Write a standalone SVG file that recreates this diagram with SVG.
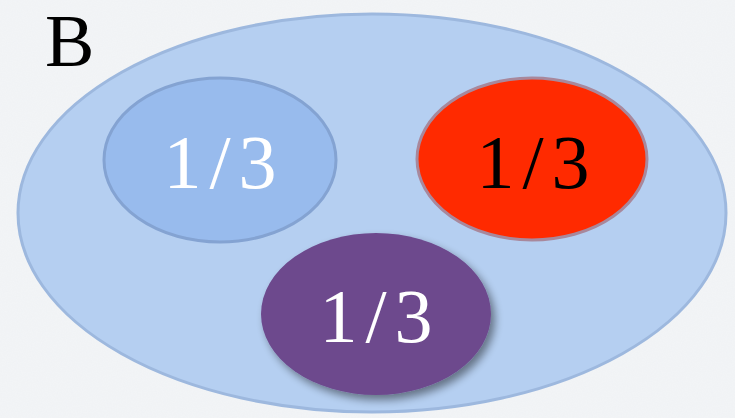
<svg xmlns="http://www.w3.org/2000/svg" width="735" height="418" viewBox="0 0 735 418">
  <style>
    .frac { font-family: "Liberation Serif", "DejaVu Serif", serif; font-size: 76px; letter-spacing: 8px; text-anchor: middle; }
    .light { fill: #ffffff; }
    .dark { fill: #000000; }
  </style>
  <defs>
    <filter id="paper" x="0" y="0" width="100%" height="100%">
      <feTurbulence type="fractalNoise" baseFrequency="0.8" numOctaves="2" seed="3" result="n"/>
      <feColorMatrix in="n" type="matrix" values="0 0 0 0 0.6  0 0 0 0 0.63  0 0 0 0 0.67  0 0 0 0.09 0"/>
    </filter>
    <filter id="shadow" x="-20%" y="-20%" width="150%" height="150%">
      <feGaussianBlur in="SourceAlpha" stdDeviation="4"/>
      <feOffset dx="4" dy="5" result="b"/>
      <feComponentTransfer><feFuncA type="linear" slope="0.45"/></feComponentTransfer>
      <feMerge><feMergeNode/><feMergeNode in="SourceGraphic"/></feMerge>
    </filter>
  </defs>

  <!-- paper background -->
  <rect width="735" height="418" fill="#f3f5f7"/>
  <rect width="735" height="418" filter="url(#paper)"/>

  <!-- set B -->
  <g id="set-b">
    <ellipse cx="372" cy="213" rx="354" ry="199" fill="#b5cff1" stroke="#9db8de" stroke-width="3"/>
    <text x="45" y="66" font-family="'Liberation Serif', serif" font-size="74" fill="#000">B</text>
  </g>

  <!-- subsets -->
  <g id="part-blue">
    <ellipse cx="220" cy="160" rx="116" ry="82" fill="#98bbed" stroke="#84a3d2" stroke-width="3"/>
    <text class="frac light" x="224" y="188">1/3</text>
  </g>

  <g id="part-red">
    <ellipse cx="532" cy="159" rx="115" ry="81" fill="#ff2a00" stroke="#a8889c" stroke-width="3"/>
    <text class="frac dark" x="537" y="188">1/3</text>
  </g>

  <g id="part-purple" filter="url(#shadow)">
    <ellipse cx="376" cy="314" rx="115" ry="81" fill="#6d4a8d"/>
    <text class="frac light" x="380" y="342">1/3</text>
  </g>

  <g id="connectors"/>
</svg>
